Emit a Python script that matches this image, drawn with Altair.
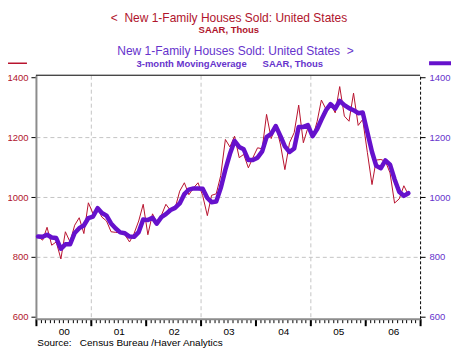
import altair as alt
import pandas as pd

RED = "#b8132e"
PURPLE = "#6611cc"
RED_TXT = "#b0142c"
PURPLE_TXT = "#6633cc"
FONT = "Liberation Sans"

# Monthly new 1-family houses sold, SAAR, thousands (Jan 2000 - Oct 2006)
sales_2000 = [867, 856, 899, 839, 850, 793, 884, 850, 906, 931, 878, 981]
sales_2001 = [945, 962, 933, 920, 884, 882, 881, 874, 850, 878, 920, 976]
sales_2002 = [874, 944, 915, 939, 976, 955, 962, 1020, 1048, 1008, 1031, 1048]
sales_2003 = [1005, 938, 1006, 1011, 1072, 1193, 1168, 1204, 1132, 1143, 1098, 1132]
sales_2004 = [1165, 1162, 1277, 1196, 1240, 1178, 1092, 1182, 1216, 1308, 1182, 1232]
sales_2005 = [1198, 1254, 1325, 1294, 1313, 1282, 1370, 1271, 1254, 1348, 1240, 1260]
sales_2006 = [1150, 1042, 1124, 1126, 1120, 1081, 980, 994, 1038, 1008]

# 3-month moving average, SAAR, thousands
ma3_2000 = [868, 867, 874, 865, 863, 827, 842, 842, 880, 896, 905, 930]
ma3_2001 = [935, 963, 947, 938, 912, 895, 882, 879, 868, 867, 883, 925]
ma3_2002 = [923, 931, 911, 933, 943, 957, 964, 979, 1010, 1025, 1029, 1029]
ma3_2003 = [1028, 997, 983, 985, 1030, 1092, 1144, 1188, 1168, 1160, 1124, 1124]
ma3_2004 = [1132, 1153, 1201, 1212, 1238, 1205, 1170, 1151, 1163, 1235, 1235, 1241]
ma3_2005 = [1204, 1228, 1259, 1291, 1311, 1296, 1322, 1308, 1298, 1291, 1281, 1283]
ma3_2006 = [1217, 1151, 1105, 1097, 1123, 1109, 1060, 1018, 1004, 1013]

y_ticks = [600, 800, 1000, 1200, 1400]

sales = sales_2000 + sales_2001 + sales_2002 + sales_2003 + sales_2004 + sales_2005 + sales_2006
ma3 = ma3_2000 + ma3_2001 + ma3_2002 + ma3_2003 + ma3_2004 + ma3_2005 + ma3_2006
dates = [f"{2000 + i // 12}-{i % 12 + 1:02d}-15" for i in range(len(sales))]
df = pd.DataFrame({"date": dates, "sales": sales, "ma3": ma3})
one = pd.DataFrame({"a": [1]})

W, H = 385, 244


def dt(y, m=1):
    return alt.DateTime(year=y, month=m, date=1, utc=True)


x_scale = alt.Scale(type="utc", domain=[dt(2000), dt(2007)])
y_scale = alt.Scale(domain=[593, 1408], nice=False, zero=False)

month_ticks = [dt(2000 + i // 12, i % 12 + 1) for i in range(85)]
year_ticks = [dt(y) for y in range(2000, 2008)]

minor_x = alt.Axis(orient="bottom", values=month_ticks, labels=False, domain=False, grid=False,
                   ticks=True, tickSize=4, tickColor="black", tickWidth=1, title=None)
major_x = alt.Axis(
    orient="bottom", values=year_ticks,
    labelExpr="utcyear(datum.value) < 2007 ? utcFormat(datum.value, '%y') : ''",
    labelOffset=28, labelFont=FONT, labelFontSize=10, labelColor="black",
    labelPadding=1, labelOverlap=False, labelFlush=False,
    tickSize=7, tickWidth=2, tickColor="black",
    domain=True, domainColor="#8c8c8c", domainWidth=2,
    grid=True, gridDash=[4, 3], gridWidth=1,
    gridColor={"condition": {"test": "utcyear(datum.value) == 2001 || utcyear(datum.value) == 2003 || utcyear(datum.value) == 2005",
                             "value": "#c4c4c4"}, "value": "transparent"},
    title=None,
)
left_y = alt.Axis(
    orient="left", values=y_ticks, format="d",
    labelColor=RED_TXT, labelFont=FONT, labelFontSize=9.5, labelPadding=3,
    tickSize=5, tickColor="black", tickWidth=1,
    domainColor="#8c8c8c", domainWidth=2,
    grid=True, gridDash=[4, 3], gridWidth=1,
    gridColor={"condition": {"test": "datum.value == 600 || datum.value == 1400", "value": "transparent"},
               "value": "#c4c4c4"},
    title=None,
)
right_y = alt.Axis(
    orient="right", values=y_ticks, format="d",
    labelColor=PURPLE_TXT, labelFont=FONT, labelFontSize=9.5, labelPadding=4,
    tickSize=5, tickColor="black", tickWidth=1,
    domainColor="black", domainDash=[3, 2], domainWidth=1,
    grid=False, title=None,
)

red = alt.Chart(df).mark_line(color=RED, strokeWidth=1).encode(
    x=alt.X("date:T", scale=x_scale, axis=minor_x),
    y=alt.Y("sales:Q", scale=y_scale, axis=left_y),
)
purple = alt.Chart(df).mark_line(color=PURPLE, strokeWidth=4.5, strokeJoin="round", strokeCap="round").encode(
    x=alt.X("date:T", scale=x_scale, axis=major_x),
    y=alt.Y("ma3:Q", scale=y_scale, axis=right_y),
)

top_border = alt.Chart(one).mark_rule(color="black", strokeWidth=1).encode(
    x=alt.value(0), x2=alt.value(W), y=alt.value(0))

swatch_red = alt.Chart(one).mark_rule(color=RED, strokeWidth=1.5).encode(
    x=alt.value(-30), x2=alt.value(-9), y=alt.value(-12))
swatch_purple = alt.Chart(one).mark_rule(color=PURPLE, strokeWidth=4).encode(
    x=alt.value(394), x2=alt.value(416), y=alt.value(-12))


def label(text, x, y, color, size, weight="normal", align="center"):
    return alt.Chart(one).mark_text(
        text=text, font=FONT, fontSize=size, fontWeight=weight, color=color,
        align=align, baseline="alphabetic",
    ).encode(x=alt.value(x), y=alt.value(y))


NB = "\u00a0"
texts = [
    label("<" + NB + NB + "New 1-Family Houses Sold: United States", 193.5, -53, RED_TXT, 12),
    label("SAAR, Thous", 193.3, -42, RED_TXT, 9.5, "bold"),
    label("New 1-Family Houses Sold: United States" + NB + " >", 200, -20, PURPLE_TXT, 12),
    label("3-month MovingAverage", 156, -8.5, PURPLE_TXT, 9.5, "bold"),
    label("SAAR, Thous", 257.5, -8.5, PURPLE_TXT, 9.5, "bold"),
    label("Source:", 1.3, 271, "black", 10, align="left"),
    label("Census Bureau /Haver Analytics", 44, 271, "black", 10, align="left"),
]

chart = alt.layer(
    red, purple, top_border, swatch_red, swatch_purple, *texts
).resolve_scale(x="shared", y="shared").resolve_axis(
    x="independent", y="independent"
).properties(
    width=W, height=H,
    autosize=alt.AutoSizeParams(type="none"),
    padding={"left": 28, "top": 67, "right": 40, "bottom": 34},
    background="white",
).configure_view(stroke=None)

chart.save("out.html", embed_options={"renderer": "svg", "actions": False})
